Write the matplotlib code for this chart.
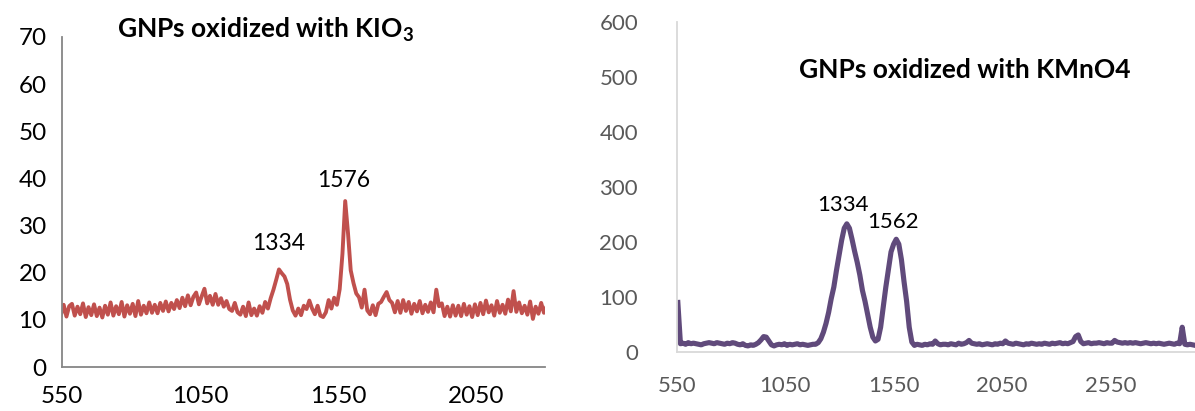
import numpy as np
import matplotlib.pyplot as plt

plt.rcParams['font.family'] = ['Lato', 'DejaVu Sans']

# Raman spectrum, GNPs oxidized with KIO3 (10 cm-1 steps)
kio3_shift = np.arange(546, 2310, 10)
kio3_intensity = [
    11.0, 13.2, 10.7, 12.9, 13.4, 10.9, 12.8, 11.2, 13.5, 10.6,
    12.7, 11.0, 13.3, 10.8, 12.6, 10.5, 13.0, 11.1, 13.7, 10.9,
    12.9, 11.2, 13.8, 10.7, 13.1, 11.3, 13.4, 10.8, 14.0, 11.1,
    13.0, 11.4, 13.7, 11.5, 13.2, 11.4, 13.6,
    11.9, 13.9, 11.8, 13.6, 12.3, 14.2, 12.5, 14.7, 12.9, 15.2,
    13.1, 14.9, 15.8, 13.3, 15.0, 16.6, 13.5, 15.1, 13.2, 15.5,
    13.2, 14.6, 12.8, 14.0, 12.3, 11.9, 13.6, 11.6, 11.1, 12.8,
    10.8, 13.7, 11.0, 12.4, 10.9,
    12.9, 11.5, 13.8, 12.4, 14.6, 16.4, 18.5, 20.7, 19.9, 19.2,
    17.6, 14.3, 12.0, 10.9, 12.4,
    11.0, 13.0, 12.3, 14.1, 12.4, 11.2, 13.0, 10.9, 10.6, 11.6,
    14.2, 12.4, 14.7, 13.2,
    16.5, 24.0, 35.2, 28.5, 20.5, 17.8, 15.6, 14.8, 12.6, 16.4,
    12.0, 11.2,
    13.1, 11.0, 13.4, 13.8, 14.9, 15.9, 14.2, 13.6, 11.6, 14.0,
    11.5, 14.2, 11.9, 13.8, 11.3, 13.4, 11.8, 14.0, 11.4, 13.2,
    11.7, 13.7, 11.6, 16.4, 12.9, 13.5, 10.8, 12.8, 10.7, 13.1,
    10.9, 13.0, 10.8, 13.4, 11.1, 12.9, 10.6, 13.3, 11.0, 13.6,
    11.2, 14.1, 11.6, 13.1, 10.9, 14.0, 11.5, 13.2, 11.3, 14.3,
    11.8, 16.1, 11.7, 13.7, 11.4, 13.0, 11.1, 13.9, 10.2, 12.8,
    11.3, 13.6, 11.5, 12.9,
]
kio3_peaks = [1334, 1576]

# Raman spectrum, GNPs oxidized with KMnO4 (12 cm-1 steps)
kmno4_shift = np.arange(554, 2960, 12)
kmno4_intensity = [
    90,
    15, 16, 14, 17, 15, 16, 15, 14, 13, 15, 16, 17, 16, 15, 17, 16, 15, 14,
    16, 15, 17, 16, 14, 13, 15, 12, 11, 13,
    12, 14, 17, 22, 28, 27, 20, 13, 11, 13,
    14, 13, 15, 12, 14, 13, 14, 15, 13, 14, 13, 12, 13, 14,
    14, 17, 24, 36, 52, 72, 97, 118, 148, 175,
    203, 225, 233, 225, 205, 183, 163, 140, 112, 92,
    68, 45, 27, 20, 23, 45, 82, 118, 150, 182,
    196, 205, 196, 168, 128, 92, 45, 18, 12, 14,
    13, 12, 14, 13, 15, 14, 20, 15, 13, 14,
    14, 13, 15, 14, 13, 16, 14, 15, 17, 21,
    16, 15, 14, 15, 13, 14, 15, 14, 13, 15,
    14, 16, 15, 20, 16, 15, 14, 16, 15, 14,
    13, 15, 14, 16, 15, 14, 15, 14, 16, 15,
    14, 16, 15, 16, 17, 15, 16, 15, 17, 19,
    28, 31, 19, 15, 16, 17, 15, 16, 16, 17,
    16, 15, 17, 16, 16, 21, 18, 17, 16, 17,
    16, 17, 16, 17, 16, 15, 16, 17, 16, 15,
    16, 15, 16, 15, 14, 15, 16, 15, 14, 16,
    15, 45, 14, 13, 14, 13, 12, 13,
]
kmno4_peaks = [1334, 1562]

fig = plt.figure(figsize=(11.95, 4.11), dpi=100)

# left panel
ax1 = fig.add_axes([0.0519, 0.107, 0.4042, 0.803])
ax1.plot(kio3_shift, kio3_intensity, color='#C0504D', lw=2.8)
ax1.set_xlim(550, 2300)
ax1.set_ylim(0, 70)
ax1.set_xticks([550, 1050, 1550, 2050])
ax1.set_yticks(range(0, 71, 10))
ax1.tick_params(length=0, labelsize=17.5, colors='black')
ax1.tick_params(axis='y', pad=11)
ax1.tick_params(axis='x', pad=14)
for side in ['top', 'right']:
    ax1.spines[side].set_visible(False)
for side in ['left', 'bottom']:
    ax1.spines[side].set_color('#868686')
    ax1.spines[side].set_linewidth(1.3)
ax1.annotate(str(kio3_peaks[0]), (kio3_peaks[0] - 1, 26.3), ha='center', va='center', fontsize=16.5)
ax1.annotate(str(kio3_peaks[1]), (kio3_peaks[1] - 4, 39.5), ha='center', va='center', fontsize=16.5)
fig.text(0.222, 0.927, 'GNPs oxidized with KIO$_\\mathregular{3}$', ha='center', va='center',
         fontsize=19, fontweight='bold')

# right panel
ax2 = fig.add_axes([0.5665, 0.1436, 0.4335, 0.8029])
ax2.plot(kmno4_shift, kmno4_intensity, color='#604A7B', lw=3.7, solid_joinstyle='round')
ax2.set_xlim(550, 2941)
ax2.set_ylim(0, 600)
ax2.set_xticks([550, 1050, 1550, 2050, 2550])
ax2.set_yticks(range(0, 601, 100))
ax2.tick_params(length=0, labelsize=16, colors='#595959')
ax2.tick_params(axis='y', pad=28)
ax2.tick_params(axis='x', pad=17)
for side in ['top', 'right']:
    ax2.spines[side].set_visible(False)
for side in ['left', 'bottom']:
    ax2.spines[side].set_color('#D9D9D9')
    ax2.spines[side].set_linewidth(1.3)
ax2.annotate(str(kmno4_peaks[0]), (kmno4_peaks[0] - 18, 267), ha='center', va='center', fontsize=16)
ax2.annotate(str(kmno4_peaks[1]), (kmno4_peaks[1] - 15, 236), ha='center', va='center', fontsize=16)
fig.text(0.8075, 0.830, 'GNPs oxidized with KMnO4', ha='center', va='center',
         fontsize=19, fontweight='bold')

fig.savefig('out.png', dpi=100)
